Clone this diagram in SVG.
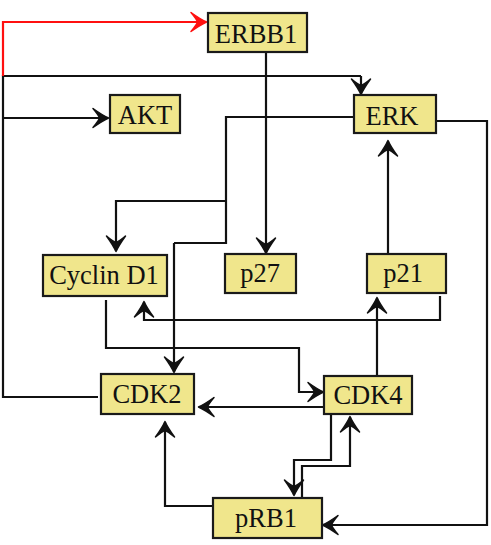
<svg xmlns="http://www.w3.org/2000/svg" width="491" height="545" viewBox="0 0 491 545">
<style>
.node rect{fill:#f0e68c;stroke:#1a1a1a;stroke-width:2.2}
.node text{font-family:"Liberation Serif","DejaVu Serif",serif;font-size:26.5px;fill:#111;text-anchor:middle}
.edges path{fill:none;stroke:#111;stroke-width:2.2;marker-end:url(#arr)}
.edges path.plain{marker-end:none}
.edges path.red{stroke:#ff1010;marker-end:url(#arrRed)}
</style>
<defs>
<marker id="arr" markerUnits="userSpaceOnUse" viewBox="-18 -11 20 22" refX="0" refY="0" markerWidth="20" markerHeight="22" orient="auto">
<path d="M0.5,0 Q-6,-3 -15,-9.5 Q-9.5,-3 -8.5,0 Q-9.5,3 -15,9.5 Q-6,3 0.5,0 Z" fill="#111" stroke="#111" stroke-width="1.5" stroke-linejoin="round"/>
</marker>
<marker id="arrRed" markerUnits="userSpaceOnUse" viewBox="-18 -11 20 22" refX="0" refY="0" markerWidth="20" markerHeight="22" orient="auto">
<path d="M0.5,0 Q-6,-3 -15,-9.5 Q-9.5,-3 -8.5,0 Q-9.5,3 -15,9.5 Q-6,3 0.5,0 Z" fill="#ff1010" stroke="#ff1010" stroke-width="1.5" stroke-linejoin="round"/>
</marker>
</defs>
<g class="edges" id="connectors">
<path class="plain" d="M98,397 H3 V76 H361"/>
<path d="M361,76 V94"/>
<path class="red" d="M3,76 V22 H206"/>
<path d="M3,118 H108"/>
<path d="M266,52 V253"/>
<path class="plain" d="M354,117 H226 V243 H174"/>
<path d="M174,243 V372"/>
<path d="M226,201 H116 V251"/>
<path d="M436,121 H487 V525 H323"/>
<path d="M388,254 V141"/>
<path d="M440,296 V320 H144 V302"/>
<path d="M377,376 V298"/>
<path d="M106,300 V348 H299 V392 H323"/>
<path d="M324,407 H199"/>
<path d="M331,414 V460 H294 V495"/>
<path d="M302,498 V466 H350 V417"/>
<path d="M213,506 H165 V422"/>
</g>
<g class="node" id="ERBB1"><rect x="208" y="13" width="99" height="39"/><text x="256" y="43">ERBB1</text></g>
<g class="node" id="AKT"><rect x="110" y="95" width="70" height="38"/><text x="145" y="124">AKT</text></g>
<g class="node" id="ERK"><rect x="354" y="95" width="82" height="38"/><text x="392" y="125">ERK</text></g>
<g class="node" id="p27"><rect x="225" y="254" width="71" height="39"/><text x="260" y="282">p27</text></g>
<g class="node" id="p21"><rect x="367" y="254" width="79" height="39"/><text x="403" y="282">p21</text></g>
<g class="node" id="CyclinD1"><rect x="43" y="255" width="124" height="41"/><text x="104" y="284">Cyclin D1</text></g>
<g class="node" id="CDK2"><rect x="101" y="374" width="93" height="40"/><text x="147" y="403">CDK2</text></g>
<g class="node" id="CDK4"><rect x="324" y="376" width="88" height="38"/><text x="368" y="404">CDK4</text></g>
<g class="node" id="pRB1"><rect x="213" y="498" width="109" height="40"/><text x="266" y="527">pRB1</text></g>
</svg>
